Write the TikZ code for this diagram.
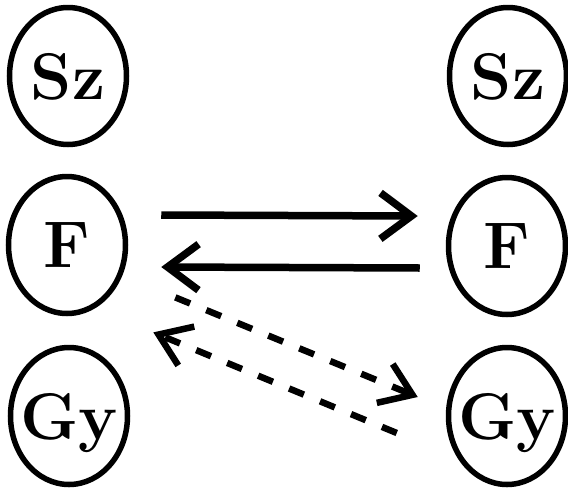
\documentclass[tikz,border=0pt]{standalone}
\usetikzlibrary{shapes.geometric,arrows.meta}
\begin{document}
\begin{tikzpicture}[x=1pt,y=-1pt,
  state/.style={ellipse,draw,line width=5.5pt,inner sep=0pt,
    minimum width=117pt,minimum height=137pt},
  lbl/.style={inner sep=0pt,text depth=0pt,
    font=\fontsize{66}{72}\selectfont\bfseries},
  arr/.style={line width=7.5pt,-{Straight Barb[length=31pt,width=46pt]}},
  darr/.style={line width=6.5pt,dash pattern=on 16pt off 17.5pt,
    -{Straight Barb[length=30pt,width=42pt]}}]
\useasboundingbox (0,0) rectangle (568,488);
% left column
\node[state,label={[lbl,name=sz1t]center:Sz}] (sz1) at (68,76) {};
\node[state,label={[lbl,name=f1t]center:F}]   (f1)  at (67,245) {};
\node[state,label={[lbl,name=gy1t]center:Gy}] (gy1) at (69,416) {};
% right column
\node[state,label={[lbl,name=sz2t]center:Sz}] (sz2) at (508,76) {};
\node[state,label={[lbl,name=f2t]center:F}]   (f2)  at (507,246) {};
\node[state,label={[lbl,name=gy2t]center:Gy}] (gy2) at (507,416) {};
% solid transitions between the F states
\draw[arr] ([xshift=33pt,yshift=30pt]f1.east) -- ([xshift=-28pt,yshift=30pt]f2.west);
\draw[arr] ([xshift=-26pt,yshift=-22pt]f2.west) -- ([xshift=33pt,yshift=-22pt]f1.east);
% dashed transitions between F and Gy
\draw[darr] ([xshift=65pt,yshift=-2pt]f1.south east) -- ([xshift=-28pt,yshift=19pt]gy2.west);
\draw[darr] ([xshift=-49pt,yshift=-17pt]gy2.west) -- ([xshift=43pt,yshift=-37pt]f1.south east);
\end{tikzpicture}
\end{document}
